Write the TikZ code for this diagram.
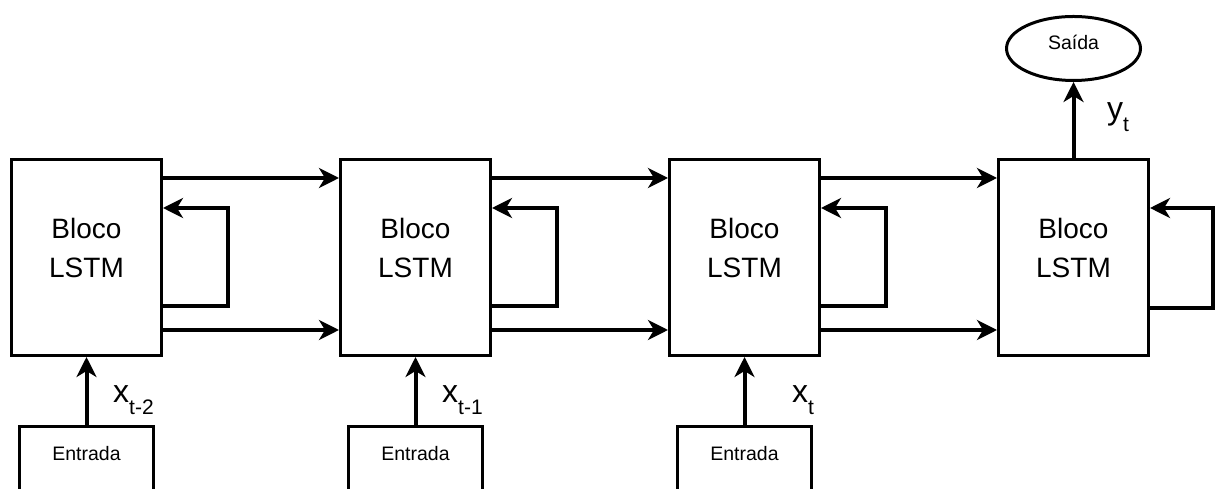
\documentclass[tikz,border=0pt]{standalone}
\usepackage{fontspec}
\setmainfont{Liberation Sans}
\usepackage{tikz}
\usetikzlibrary{shapes.geometric, arrows.meta}
\newcommand{\tsub}[1]{\raisebox{-12pt}{\fontsize{21}{21}\selectfont #1}}

\begin{document}
\begin{tikzpicture}[x=1pt,y=1pt,
    bloco/.style={draw,line width=3pt,minimum width=150pt,minimum height=196pt,
                  align=center,text depth=20pt,font=\fontsize{28}{39}\selectfont},
    entrada/.style={draw,line width=3pt,minimum width=134pt,anchor=north,
                    text height=14pt,text depth=60pt,inner ysep=20pt,
                    font=\fontsize{19.5}{22}\selectfont},
    rotulo/.style={anchor=base west,inner sep=0pt,font=\fontsize{32}{32}\selectfont},
    arrow/.style={-{Stealth[length=20pt,width=20pt,inset=6pt]},line width=4pt}]

    \useasboundingbox (0,0) rectangle (1215,489);
    \clip (0,0) rectangle (1215,489);

    % Blocos LSTM
    \foreach \i in {1,...,4}
      \node[bloco] (B\i) at (\i*329-242.5,231.5) {Bloco\\LSTM};

    % Ligacoes entre blocos
    \foreach \i/\j in {1/2, 2/3, 3/4}{
      \draw[arrow] ([yshift=-20pt]B\i.north east) -- ([yshift=-20pt]B\j.north west);
      \draw[arrow] ([yshift=27pt]B\i.south east) -- ([yshift=27pt]B\j.south west);
    }

    % Realimentacao
    \foreach \i in {1,2,3}
      \draw[arrow] ([yshift=51pt]B\i.south east) -- ++(65,0) |- ([yshift=-50pt]B\i.north east);
    \draw[arrow] ([yshift=49pt]B4.south east) -- ++(63,0) |- ([yshift=-50pt]B4.north east);

    % Entradas
    \foreach \i/\s/\dx in {1/t-2/26.5, 2/t-1/26.5, 3/t/47.5}{
      \node[entrada] (E\i) at (\i*329-242.5,64) {Entrada};
      \draw[arrow] (E\i) -- (B\i);
      \node[rotulo] (X\i) at ([xshift=\dx pt,yshift=22pt]E\i.north) {x\tsub{\s}};
    }

    % Saida
    \node[draw,ellipse,line width=3pt,minimum width=134pt,minimum height=64pt,
          text height=14pt,text depth=11pt,
          font=\fontsize{19.5}{22}\selectfont] (S) at (1073.5,440.5) {Saída};
    \draw[arrow] (B4.north) -- (S.south);
    \node[rotulo] (Y) at ([xshift=33.5pt,yshift=38pt]B4.north) {y\tsub{t}};
  \end{tikzpicture}
\end{document}
